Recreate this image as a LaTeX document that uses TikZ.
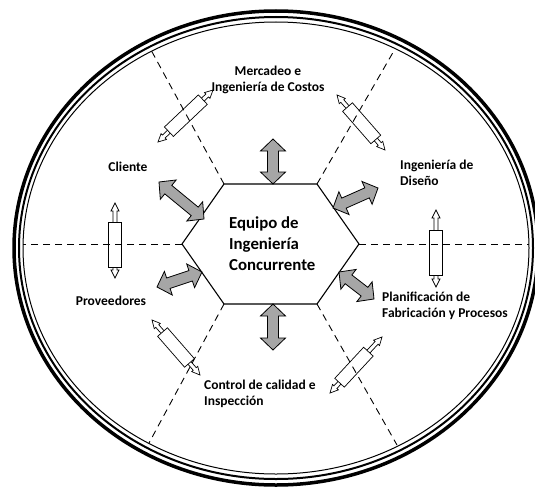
\documentclass[tikz,border=0pt]{standalone}
\usepackage{fontspec}
\setmainfont{Carlito}
\usetikzlibrary{calc}

\definecolor{arrowgray}{RGB}{166,166,166}

\tikzset{
  spoke/.style={dash pattern=on 7pt off 5pt, line width=0.9pt},
  hexedge/.style={line width=1.1pt, fill=white, line join=miter},
  flowarrow/.style={draw=black, line width=0.8pt, fill=arrowgray, line join=miter},
  rodline/.style={draw=black, line width=0.7pt, fill=white, line join=miter},
  label/.style={font=\fontsize{13.5}{15.5}\selectfont\bfseries, inner sep=0pt},
  core/.style={font=\fontsize{16.8}{21}\selectfont\bfseries, align=left, inner sep=0pt},
}

% two-headed arrow outline from #2 to #3
% #4 head length, #5 head half width, #6 shaft half width
\newcommand\twohead[6]{%
  \coordinate (thA) at ($(#2)!#4!(#3)$);
  \coordinate (thB) at ($(#3)!#4!(#2)$);
  \draw[#1] (#2)
    -- ($(thA)!#5!90:(#3)$) -- ($(thA)!#6!90:(#3)$)
    -- ($(thB)!#6!-90:(#2)$) -- ($(thB)!#5!-90:(#2)$)
    -- (#3)
    -- ($(thB)!#5!90:(#2)$) -- ($(thB)!#6!90:(#2)$)
    -- ($(thA)!#6!-90:(#3)$) -- ($(thA)!#5!-90:(#3)$)
    -- cycle;
}

% small sleeve with arrows at both ends, #3/#4 = sleeve gap from each tip
\newcommand\sleeve[4]{%
  \twohead{rodline}{#1}{#2}{8pt}{4pt}{2pt}
  \coordinate (slA) at ($(#1)!#3!(#2)$);
  \coordinate (slB) at ($(#2)!#4!(#1)$);
  \draw[rodline] ($(slA)!6.5pt!90:(#2)$) -- ($(slB)!6.5pt!-90:(#1)$)
    -- ($(slB)!6.5pt!90:(#1)$) -- ($(slA)!6.5pt!-90:(#2)$) -- cycle;
}

\begin{document}
\begin{tikzpicture}[x=1pt, y=-1pt]
\useasboundingbox (0,0) rectangle (535,487);

% outer rim
\coordinate (rim) at (276,248);
\draw[line width=3.5pt] (rim) ellipse [x radius=262, y radius=237];
\draw[line width=2pt] (rim) ellipse [x radius=257, y radius=231];
\draw[line width=1pt] (rim) ellipse [x radius=253, y radius=226];

% hexagon corners
\coordinate (hW)  at (182,244);
\coordinate (hNW) at (224,184);
\coordinate (hNE) at (317,184);
\coordinate (hE)  at (359,244);
\coordinate (hSE) at (317,304);
\coordinate (hSW) at (224,304);

% where the spokes meet the rim
\coordinate (rW)  at (23,244);
\coordinate (rE)  at (529,244);
\coordinate (rNW) at (151,50);
\coordinate (rNE) at (395,49);
\coordinate (rSW) at (149,443);
\coordinate (rSE) at (397,445);

% sleeves on the spokes
\coordinate (sLa) at (115,203);  \coordinate (sLb) at (115,278);
\coordinate (sRa) at (436,210);  \coordinate (sRb) at (436,287);
\coordinate (sTLa) at (158,142); \coordinate (sTLb) at (213,90);
\coordinate (sTRa) at (337,95);  \coordinate (sTRb) at (385,150);
\coordinate (sBLa) at (152,320); \coordinate (sBLb) at (200,375);
\coordinate (sBRa) at (382,337); \coordinate (sBRb) at (330,393);
\sleeve{sLa}{sLb}{19pt}{11pt}
\sleeve{sRa}{sRb}{20pt}{12pt}
\sleeve{sTLa}{sTLb}{15pt}{14pt}
\sleeve{sTRa}{sTRb}{16pt}{14pt}
\sleeve{sBLa}{sBLb}{16pt}{16pt}
\sleeve{sBRa}{sBRb}{20pt}{14pt}

% dashed spokes
\draw[spoke] (hW) -- (rW);
\draw[spoke] (hE) -- (rE);
\draw[spoke] (hNW) -- (rNW);
\draw[spoke] (hNE) -- (rNE);
\draw[spoke] (hSW) -- (rSW);
\draw[spoke] (hSE) -- (rSE);

% hexagon
\draw[hexedge] (hW) -- (hNW) -- (hNE) -- (hE) -- (hSE) -- (hSW) -- cycle;
\node[core, anchor=west] (team) at (229,244) {Equipo de\\Ingeniería\\Concurrente};

% gray exchange arrows
\coordinate (aTa) at (273,139);  \coordinate (aTb) at (273,184);
\coordinate (aBa) at (273,304);  \coordinate (aBb) at (273,350);
\coordinate (aTLa) at (159,182); \coordinate (aTLb) at (204,219);
\coordinate (aTRa) at (333,208); \coordinate (aTRb) at (378,188);
\coordinate (aBLa) at (202,272); \coordinate (aBLb) at (157,287);
\coordinate (aBRa) at (339,272); \coordinate (aBRb) at (374,299);
\twohead{flowarrow}{aTa}{aTb}{12pt}{12.5pt}{5.5pt}
\twohead{flowarrow}{aBa}{aBb}{12pt}{12.5pt}{5.5pt}
\twohead{flowarrow}{aTLa}{aTLb}{12pt}{12.5pt}{5.5pt}
\twohead{flowarrow}{aTRa}{aTRb}{12pt}{12.5pt}{5.5pt}
\twohead{flowarrow}{aBLa}{aBLb}{12pt}{12.5pt}{5.5pt}
\twohead{flowarrow}{aBRa}{aBRb}{12pt}{12.5pt}{5.5pt}

% departments
\node[label, align=center] (mkt) at (268,80) {Mercadeo e\\Ingeniería de Costos};
\node[label] (cli) at (128,167) {Cliente};
\node[label, align=left, anchor=west] (dis) at (400,173) {Ingeniería de\\Diseño};
\node[label] (prov) at (111,301) {Proveedores};
\node[label, align=left, anchor=west] (plan) at (382,306) {Planificación de\\Fabricación y Procesos};
\node[label, align=left, anchor=west] (qc) at (204,394) {Control de calidad e\\Inspección};
\end{tikzpicture}
\end{document}
